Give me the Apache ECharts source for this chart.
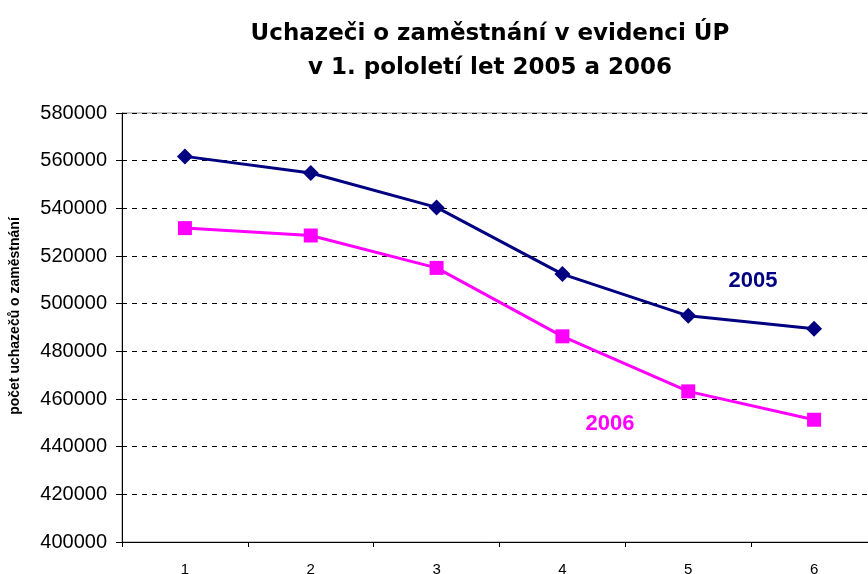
<!DOCTYPE html>
<html>
<head>
<meta charset="utf-8">
<script src="https://cdn.jsdelivr.net/npm/echarts@6/dist/echarts.min.js"></script>
<style>
    html, body { margin: 0; padding: 0; background: #fff; }
    #chart { width: 868px; height: 574px; }
</style>
</head>
<body>
<div id="chart"></div>
<script>
// data
const months = ['1', '2', '3', '4', '5', '6']
const y2005 = [561800, 554800, 540400, 512400, 494900, 489500]
const y2006 = [531700, 528600, 515000, 486300, 463200, 451300]
const yTicks = { min: 400000, max: 580000, step: 20000 }

const chartDom = document.getElementById('chart')
let myChart = echarts.init(chartDom)
let option

const font = 'Arial, "Liberation Sans", sans-serif'
const wideFont = '"DejaVu Sans", Arial, sans-serif'

option = {
    animation: false,
    textStyle: { fontFamily: font },
    title: {
        text: 'Uchazeči o zaměstnání v evidenci ÚP\nv 1. pololetí let 2005 a 2006',
        left: 485,
        top: 12,
        textAlign: 'center',
        textStyle: {
            fontFamily: wideFont,
            fontSize: 23,
            fontWeight: 'bold',
            color: '#000',
            lineHeight: 34,
        },
    },
    grid: {
        left: 122,
        width: 755,
        top: 113,
        height: 429,
        outerBoundsMode: 'none',
        containLabel: false,
        show: true,
        borderColor: '#8c8c8c',
        borderWidth: 1,
    },
    xAxis: {
        type: 'category',
        data: months,
        boundaryGap: true,
        axisLine: { lineStyle: { color: '#000', width: 1 } },
        axisTick: { show: true, length: 5, inside: false, lineStyle: { color: '#000' } },
        axisLabel: { color: '#000', fontSize: 15, margin: 20, fontFamily: font },
        splitLine: { show: false },
    },
    yAxis: {
        type: 'value',
        min: yTicks.min,
        max: yTicks.max,
        interval: yTicks.step,
        axisLine: { show: true, lineStyle: { color: '#000', width: 1 } },
        axisTick: { show: true, length: 6, lineStyle: { color: '#000' } },
        axisLabel: {
            color: '#000',
            fontSize: 20,
            margin: 15,
            fontFamily: font,
            formatter: (v) => String(v),
        },
        splitLine: {
            show: true,
            lineStyle: { color: '#000', type: [5, 5], width: 1 },
        },
    },
    graphic: [
        {
            type: 'text',
            x: 15,
            y: 316,
            rotation: Math.PI / 2,
            style: {
                text: 'počet uchazečů o zaměstnání',
                font: 'bold 14px ' + font,
                fill: '#000',
                textAlign: 'center',
                textVerticalAlign: 'middle',
            },
        },
        {
            type: 'text',
            x: 753,
            y: 281,
            style: {
                text: '2005',
                font: 'bold 22px ' + font,
                fill: '#000080',
                textAlign: 'center',
                textVerticalAlign: 'middle',
            },
        },
        {
            type: 'text',
            x: 610,
            y: 424,
            style: {
                text: '2006',
                font: 'bold 22px ' + font,
                fill: '#ff00ff',
                textAlign: 'center',
                textVerticalAlign: 'middle',
            },
        },
    ],
    series: [
        {
            name: '2005',
            type: 'line',
            data: y2005,
            symbol: 'diamond',
            symbolSize: [16, 16],
            lineStyle: { color: '#000080', width: 3 },
            itemStyle: { color: '#000080' },
            z: 3,
        },
        {
            name: '2006',
            type: 'line',
            data: y2006,
            symbol: 'rect',
            symbolSize: [14, 14],
            lineStyle: { color: '#ff00ff', width: 3 },
            itemStyle: { color: '#ff00ff' },
            z: 3,
        },
    ],
}

myChart.setOption(option)
</script>
</body>
</html>
